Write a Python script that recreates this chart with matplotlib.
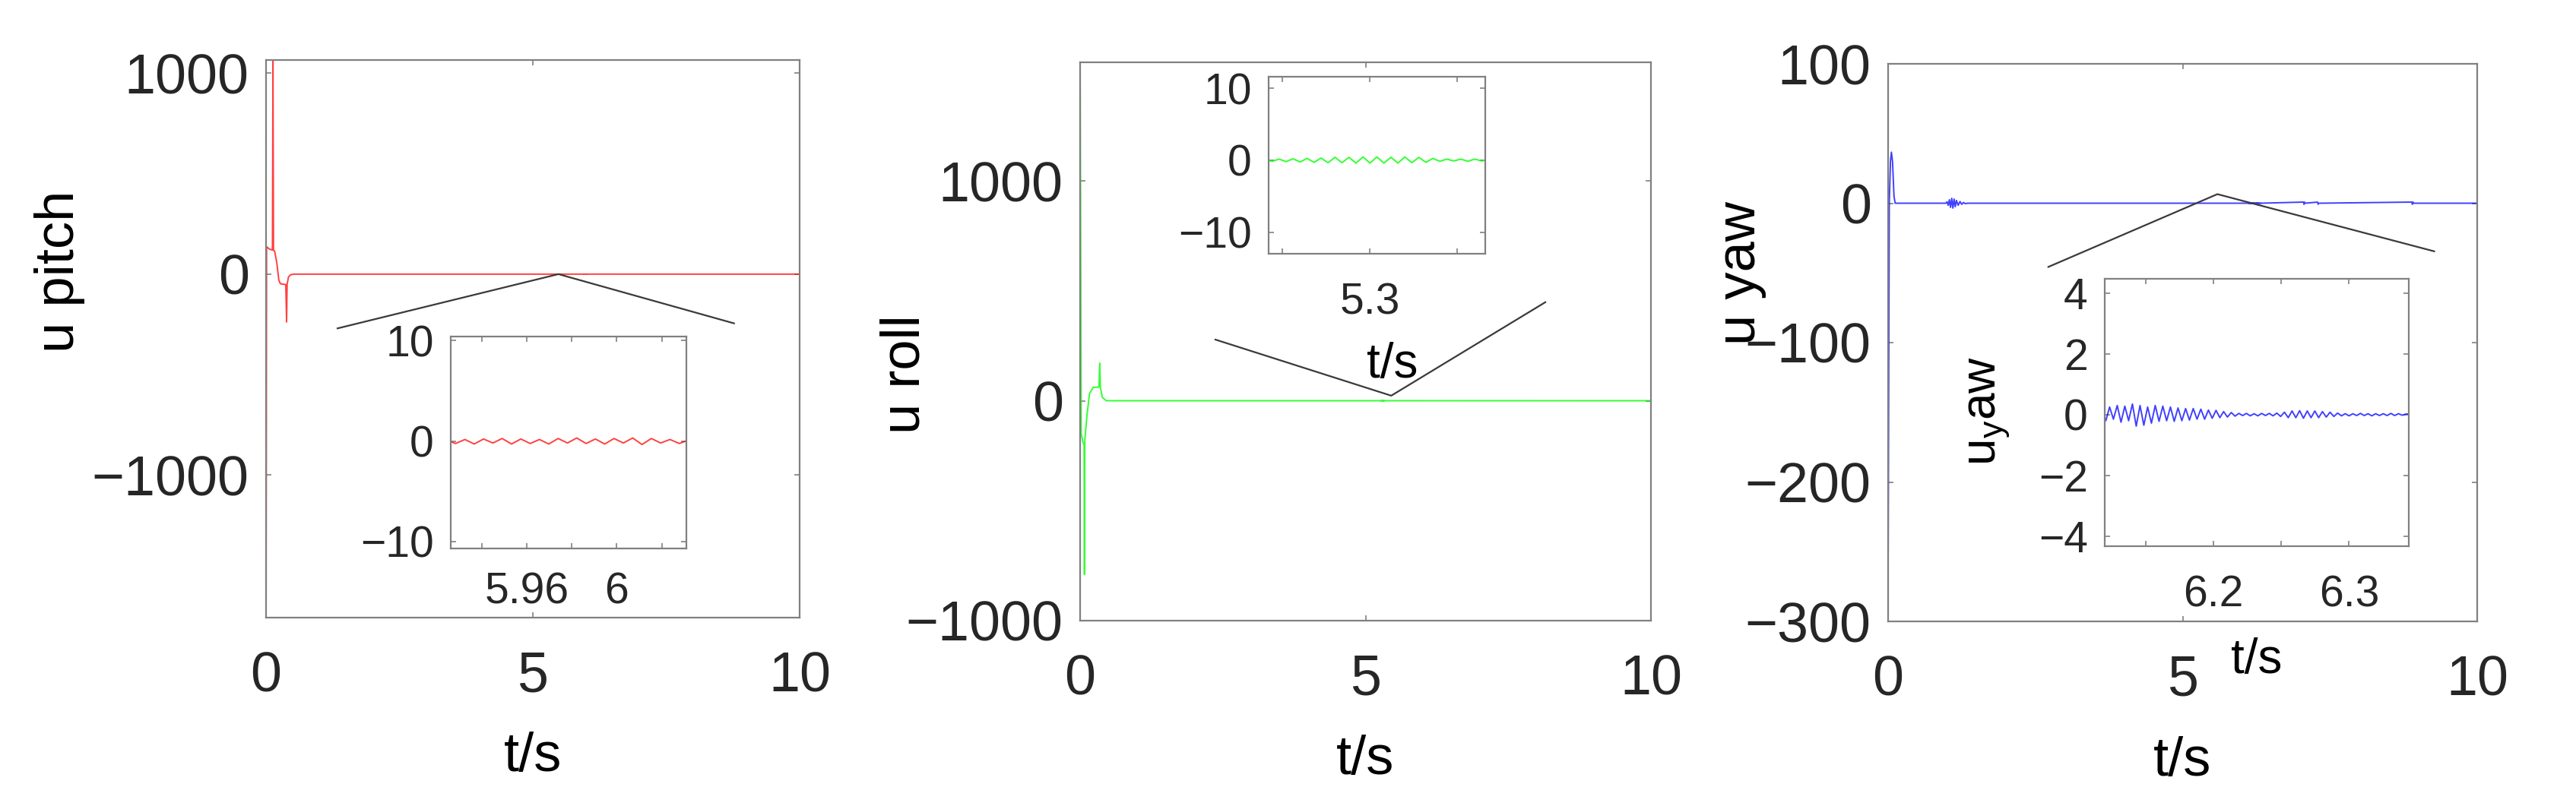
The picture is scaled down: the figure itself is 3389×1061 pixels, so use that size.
import numpy as np
import matplotlib
matplotlib.use("Agg")
import matplotlib.pyplot as plt

plt.rcParams['font.family'] = ['Liberation Sans', 'DejaVu Sans']
plt.rcParams['mathtext.fontset'] = 'custom'
plt.rcParams['mathtext.rm'] = 'Liberation Sans'
plt.rcParams['mathtext.it'] = 'Liberation Sans:italic'

W, H = 3389, 1061

# ---------------- data ----------------
# pitch: start-up transient
pitch_t = [0.0, 0.01, 0.06, 0.12, 0.13, 0.14, 0.16, 0.20, 0.24, 0.27, 0.37, 0.385, 0.395, 0.42, 0.46, 0.52, 5.90]
pitch_u = [-1710, 137, 125, 120, 1066, 118, 115, 60, -30, -48, -52, -238, -50, -15, -3, 0, 0]
# pitch: small ripple seen in the zoom window
pitch_rip_t = np.linspace(5.924, 6.032, 27)
pitch_rip_u = [0.1, -0.25, 0.15, -0.3, 0.2, -0.2, 0.25, -0.3, 0.2, -0.25, 0.15, -0.3, 0.25, -0.2,
               0.3, -0.25, 0.2, -0.3, 0.25, -0.2, 0.3, -0.35, 0.25, -0.2, 0.15, -0.25, 0.1]

# roll
roll_t = [0.0, 0.02, 0.05, 0.07, 0.076, 0.082, 0.12, 0.165, 0.23, 0.33, 0.345, 0.355, 0.39, 0.46, 5.22]
roll_u = [1539, -150, -190, -200, -790, -180, -67, 33, 61, 62, 171, 60, 15, 0, 0]
roll_rip_t = np.linspace(5.240, 5.368, 33)
roll_rip_u = [0.1, -0.15, 0.15, -0.2, 0.2, -0.25, 0.25, -0.3, 0.3, -0.35, 0.4, -0.35, 0.4, -0.4, 0.45, -0.4,
              0.45, -0.4, 0.4, -0.4, 0.45, -0.35, 0.4, -0.3, 0.25, -0.15, 0.15, -0.1, 0.15, -0.15, 0.15, -0.1, 0.1]

# yaw
yaw_t = [0.0, 0.02, 0.04, 0.056, 0.075, 0.10, 0.12, 0.98, 1.00, 1.02, 1.04, 1.06, 1.08, 1.10, 1.12, 1.14,
         1.16, 1.19, 1.22, 1.25, 1.28, 1.31, 1.35, 6.10]
yaw_u = [-265, 0, 30, 36.6, 30, 5, 0, 0, 1.0, -1.5, 2.5, -3.0, 3.5, -3.5, 3.0, -2.5,
         2.0, -1.5, 1.2, -0.8, 0.5, -0.3, 0, 0]
yaw_rip_t = np.linspace(6.118, 6.342, 81)
yaw_rip_u = [0.15, -0.2, 0.25, -0.15, 0.3, -0.25, 0.28, -0.2,
             0.35, -0.38, 0.3, -0.35, 0.25,
             -0.28, 0.3, -0.22, 0.28, -0.2, 0.25, -0.22, 0.22, -0.2, 0.2, -0.18, 0.2, -0.15, 0.18, -0.15, 0.15, -0.12, 0.14,
             -0.1, 0.1, -0.08, 0.07, -0.05,
             0.04, -0.03, 0.04, -0.04, 0.03, -0.04, 0.04, -0.03, 0.04, -0.04, 0.05, -0.06,
             0.08, -0.1, 0.12, -0.1, 0.13, -0.12, 0.12, -0.1, 0.12, -0.1, 0.1, -0.08, 0.08, -0.06, 0.05,
             -0.04, 0.03, -0.04, 0.03, -0.03, 0.04, -0.03, 0.03, -0.04, 0.03, -0.03, 0.03, -0.03, 0.04, -0.03, 0.03, -0.02, 0.02]
yaw_tail_t = [7.05, 7.06, 7.07, 7.08, 7.29, 7.30, 7.31, 8.89, 8.90, 8.91, 8.92, 10.0]
yaw_tail_u = [0.8, -0.8, 0.8, 0, 0.8, -0.8, 0, 0.8, -0.8, 0.8, 0, 0]

# zoom connector lines (main-axes data coords)
conn_pitch_t = [1.34, 5.48, 8.77]
conn_pitch_u = [-270, 0, -245]
conn_roll_t = [2.37, 5.45, 8.15]
conn_roll_u = [278, 23, 448]
conn_yaw_t = [2.72, 5.59, 9.27]
conn_yaw_u = [-45.7, 6.5, -34.5]

pitch_all_t = np.concatenate([pitch_t, pitch_rip_t, [10.0]])
pitch_all_u = np.concatenate([pitch_u, pitch_rip_u, [0.0]])
roll_all_t = np.concatenate([roll_t, roll_rip_t, [10.0]])
roll_all_u = np.concatenate([roll_u, roll_rip_u, [0.0]])
yaw_all_t = np.concatenate([yaw_t, yaw_rip_t, yaw_tail_t])
yaw_all_u = np.concatenate([yaw_u, yaw_rip_u, yaw_tail_u])


def box(x0, y0, x1, y1):
    # pixel box -> figure fraction
    return [x0 / W, 1 - y1 / H, (x1 - x0) / W, (y1 - y0) / H]


def style(ax, fs, xpad, ypad):
    for s in ax.spines.values():
        s.set_color('#808080')
        s.set_linewidth(1.6)
    ax.tick_params(direction='in', length=5, width=1.2, colors='#808080',
                   labelcolor='#262626', labelsize=fs, top=True, right=True)
    ax.tick_params(axis='x', pad=xpad)
    ax.tick_params(axis='y', pad=ypad)


fig = plt.figure(figsize=(W / 100, H / 100), dpi=100)

MAIN_FS, LAB_FS, IN_FS, IN_LAB = 53, 52, 41, 46
LW = 1.4

# ---------- pitch ----------
ax1 = fig.add_axes(box(350, 79, 1052, 813))
ax1.plot(pitch_all_t, pitch_all_u, color='#ff0000', lw=LW, alpha=0.75)
ax1.plot(conn_pitch_t, conn_pitch_u, color='#3a3a3a', lw=1.6)
ax1.set_xlim(0, 10)
ax1.set_ylim(-1710, 1066)
ax1.set_xticks([0, 5, 10])
ax1.set_yticks([-1000, 0, 1000])
style(ax1, MAIN_FS, 31, 16)
ax1.set_xlabel('t/s', fontsize=LAB_FS, va='center')
ax1.xaxis.set_label_coords(0.5, -184 / 734)
ax1.set_ylabel('u pitch', fontsize=LAB_FS, va='center')
ax1.yaxis.set_label_coords((78 - 350) / 702, (813 - 357) / 734)

in1 = fig.add_axes(box(593, 443, 903, 722), zorder=3)
in1.plot(pitch_all_t, pitch_all_u, color='#ff0000', lw=LW, alpha=0.75)
in1.set_xlim(5.926, 6.031)
in1.set_ylim(-10.7, 10.4)
in1.set_xticks([5.94, 5.96, 5.98, 6.0, 6.02])
in1.set_xticklabels(['', '5.96', '', '6', ''])
in1.set_yticks([-10, 0, 10])
style(in1, IN_FS, 22, 16)

# ---------- roll ----------
ax2 = fig.add_axes(box(1421, 82, 2172, 817))
ax2.plot(roll_all_t, roll_all_u, color='#00ff00', lw=LW, alpha=0.8)
ax2.plot(conn_roll_t, conn_roll_u, color='#3a3a3a', lw=1.6)
ax2.set_xlim(0, 10)
ax2.set_ylim(-1000, 1539)
ax2.set_xticks([0, 5, 10])
ax2.set_yticks([-1000, 0, 1000])
style(ax2, MAIN_FS, 31, 16)
ax2.set_xlabel('t/s', fontsize=LAB_FS, va='center')
ax2.xaxis.set_label_coords(0.5, -184 / 735)
ax2.set_ylabel('u roll', fontsize=LAB_FS, va='center')
ax2.yaxis.set_label_coords((1191 - 1421) / 751, (817 - 493) / 735)

in2 = fig.add_axes(box(1669, 101, 1954, 334), zorder=3)
in2.plot(roll_all_t, roll_all_u, color='#00ff00', lw=LW, alpha=0.8)
in2.set_xlim(5.242, 5.366)
in2.set_ylim(-13.0, 11.6)
in2.set_xticks([5.25, 5.3, 5.35])
in2.set_xticklabels(['', '5.3', ''])
in2.set_yticks([-10, 0, 10])
style(in2, IN_FS, 27, 16)
in2.set_xlabel('t/s', fontsize=IN_LAB, va='center')
in2.xaxis.set_label_coords((1832 - 1669) / 285, -146 / 233)

# ---------- yaw ----------
ax3 = fig.add_axes(box(2484, 84, 3259, 818))
ax3.plot(yaw_all_t, yaw_all_u, color='#0000ff', lw=LW, alpha=0.75)
ax3.plot(conn_yaw_t, conn_yaw_u, color='#3a3a3a', lw=1.6)
ax3.set_xlim(0, 10)
ax3.set_ylim(-300, 100)
ax3.set_xticks([0, 5, 10])
ax3.set_yticks([-300, -200, -100, 0, 100])
style(ax3, MAIN_FS, 31, 16)
ax3.set_xlabel('t/s', fontsize=LAB_FS, va='center')
ax3.xaxis.set_label_coords(0.5, -184 / 734)
ax3.set_ylabel('u yaw', fontsize=LAB_FS, va='center')
ax3.yaxis.set_label_coords((2290 - 2484) / 775, (818 - 360) / 734)

in3 = fig.add_axes(box(2769, 367, 3169, 719), zorder=3)
in3.plot(yaw_all_t, yaw_all_u, color='#0000ff', lw=LW, alpha=0.75)
in3.set_xlim(6.12, 6.344)
in3.set_ylim(-4.33, 4.47)
in3.set_xticks([6.15, 6.2, 6.25, 6.3])
in3.set_xticklabels(['', '6.2', '', '6.3'])
in3.set_yticks([-4, -2, 0, 2, 4])
style(in3, IN_FS, 27, 16)
in3.set_xlabel('t/s', fontsize=IN_LAB, va='center')
in3.xaxis.set_label_coords(0.5, -150 / 352)
in3.set_ylabel(r'$\mathregular{u_yaw}$', fontsize=IN_LAB, va='center')
in3.yaxis.set_label_coords((2617 - 2769) / 400, (719 - 541) / 352)

fig.savefig('out.png', dpi=100)
